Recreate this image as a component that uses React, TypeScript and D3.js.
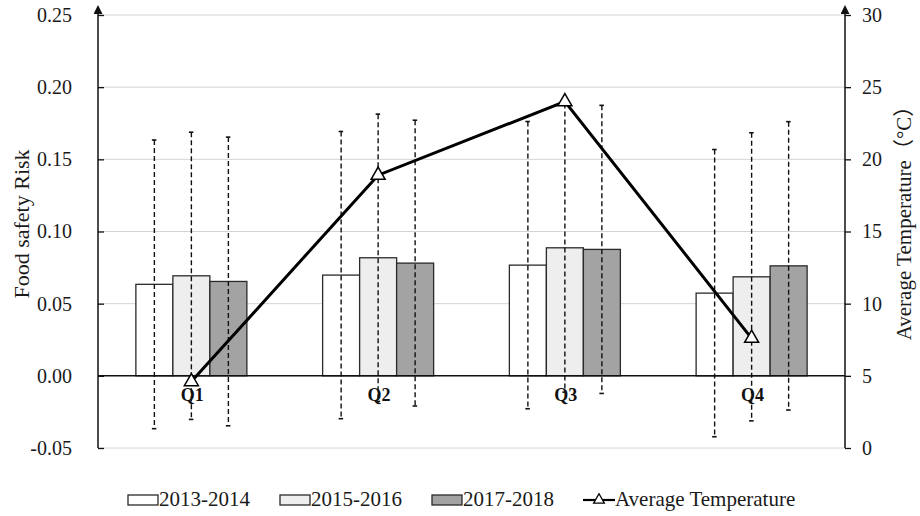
import React, { useEffect, useRef } from "react";
import * as d3 from "d3";

const quarters = ["Q1", "Q2", "Q3", "Q4"];
const seriesNames = ["2013-2014", "2015-2016", "2017-2018"];
const risk2013 = [0.0634, 0.0698, 0.0767, 0.0573];
const risk2015 = [0.0693, 0.0818, 0.0887, 0.0686];
const risk2017 = [0.0654, 0.0781, 0.0876, 0.0762];
const err2013 = [0.1, 0.0995, 0.0995, 0.0995];
const err2015 = [0.0995, 0.0995, 0.1, 0.0998];
const err2017 = [0.1, 0.099, 0.0998, 0.0999];
const avgTemp = [4.6, 18.9, 24.0, 7.6];
const leftTicks = [-0.05, 0, 0.05, 0.1, 0.15, 0.2, 0.25];
const rightTicks = [0, 5, 10, 15, 20, 25, 30];
const seriesFill = ["#ffffff", "#eeeeee", "#a3a3a3"];

const App = () => {
  const svgRef = useRef(null);

  useEffect(() => {
    const width = 920;
    const height = 516;
    const left = 98;
    const right = 845;
    const top = 15;
    const bottom = 448;
    const font = "'Liberation Serif', 'Times New Roman', serif";

    const svg = d3.select(svgRef.current)
      .attr("width", width)
      .attr("height", height)
      .style("background", "#fff");
    svg.selectAll("*").remove();

    const defs = svg.append("defs");
    defs.append("marker")
      .attr("id", "arrow")
      .attr("viewBox", "0 0 10 10")
      .attr("refX", 5)
      .attr("refY", 9)
      .attr("markerWidth", 9)
      .attr("markerHeight", 10)
      .attr("markerUnits", "userSpaceOnUse")
      .attr("orient", "0")
      .append("path")
      .attr("d", "M0,10 L5,0 L10,10 Z")
      .attr("fill", "#111");

    const yL = d3.scaleLinear().domain([-0.05, 0.25]).range([bottom, top]);
    const yR = d3.scaleLinear().domain([0, 30]).range([bottom, top]);
    const x = d3.scaleBand().domain(quarters).range([left, right]);
    const xs = d3.scaleBand().domain(seriesNames).range([-55.5, 55.5]);

    // gridlines
    svg.append("g")
      .selectAll("line")
      .data(leftTicks.filter((d) => d !== 0))
      .join("line")
      .attr("x1", left)
      .attr("x2", right)
      .attr("y1", (d) => yL(d))
      .attr("y2", (d) => yL(d))
      .attr("stroke", "#d4d4d4")
      .attr("stroke-width", 1);

    // bars
    const values = [risk2013, risk2015, risk2017];
    const errs = [err2013, err2015, err2017];
    const rows = [];
    seriesNames.forEach((s, si) => {
      quarters.forEach((q, qi) => {
        rows.push({ s, si, q, v: values[si][qi], e: errs[si][qi] });
      });
    });

    svg.append("g")
      .selectAll("rect")
      .data(rows)
      .join("rect")
      .attr("x", (d) => x(d.q) + x.bandwidth() / 2 + xs(d.s))
      .attr("y", (d) => yL(d.v))
      .attr("width", xs.bandwidth())
      .attr("height", (d) => yL(0) - yL(d.v))
      .attr("fill", (d) => seriesFill[d.si])
      .attr("stroke", "#2a2a2a")
      .attr("stroke-width", 1.3);

    // zero line
    svg.append("line")
      .attr("x1", left)
      .attr("x2", right)
      .attr("y1", yL(0))
      .attr("y2", yL(0))
      .attr("stroke", "#111")
      .attr("stroke-width", 1.5);

    // error bars
    const eg = svg.append("g");
    const cx = (d) => x(d.q) + x.bandwidth() / 2 + xs(d.s) + xs.bandwidth() / 2;
    eg.selectAll("line.err")
      .data(rows)
      .join("line")
      .attr("class", "err")
      .attr("x1", cx)
      .attr("x2", cx)
      .attr("y1", (d) => yL(d.v + d.e))
      .attr("y2", (d) => yL(d.v - d.e))
      .attr("stroke", "#111")
      .attr("stroke-width", 1.4)
      .attr("stroke-dasharray", "5,3");
    eg.selectAll("path.cap")
      .data(rows.flatMap((d) => [{ ...d, y: d.v + d.e }, { ...d, y: d.v - d.e }]))
      .join("path")
      .attr("class", "cap")
      .attr("d", (d) => `M${cx(d) - 2.5},${yL(d.y)} H${cx(d) + 2}`)
      .attr("stroke", "#111")
      .attr("stroke-width", 1.6);

    // quarter labels
    svg.append("g")
      .selectAll("text")
      .data(quarters)
      .join("text")
      .attr("x", (d) => x(d) + x.bandwidth() / 2 + 1)
      .attr("y", yL(0) + 25)
      .attr("text-anchor", "middle")
      .attr("font-family", font)
      .attr("font-weight", "bold")
      .attr("font-size", 18)
      .attr("fill", "#111")
      .text((d) => d);

    // temperature line
    const line = d3.line()
      .x((d, i) => x(quarters[i]) + x.bandwidth() / 2)
      .y((d) => yR(d));
    svg.append("path")
      .datum(avgTemp)
      .attr("d", line)
      .attr("fill", "none")
      .attr("stroke", "#000")
      .attr("stroke-width", 3);
    const tri = d3.symbol().type(d3.symbolTriangle).size(85);
    svg.append("g")
      .selectAll("path")
      .data(avgTemp)
      .join("path")
      .attr("d", tri)
      .attr("transform", (d, i) => `translate(${x(quarters[i]) + x.bandwidth() / 2},${yR(d)})`)
      .attr("fill", "#fff")
      .attr("stroke", "#000")
      .attr("stroke-width", 1.5);

    // axes
    const fmt = d3.format(".2f");
    const axL = svg.append("g")
      .attr("transform", `translate(${left},0)`)
      .call(d3.axisLeft(yL).tickValues(leftTicks).tickFormat((d) => fmt(d).replace("\u2212", "-")).tickSize(-6).tickPadding(26));
    const axR = svg.append("g")
      .attr("transform", `translate(${right},0)`)
      .call(d3.axisRight(yR).tickValues(rightTicks).tickSize(6).tickPadding(11));
    [axL, axR].forEach((ax) => {
      ax.select(".domain").remove();
      ax.selectAll("line").attr("stroke", "#111").attr("stroke-width", 1.3);
      ax.selectAll("text")
        .attr("font-family", font)
        .attr("font-size", 20)
        .attr("fill", "#1a1a1a");
    });
    [left, right].forEach((ax) => {
      svg.append("line")
        .attr("x1", ax)
        .attr("x2", ax)
        .attr("y1", bottom)
        .attr("y2", 13)
        .attr("stroke", "#111")
        .attr("stroke-width", 1.5)
        .attr("marker-end", "url(#arrow)");
    });

    // axis titles
    svg.append("text")
      .attr("transform", "translate(29,224) rotate(-90)")
      .attr("text-anchor", "middle")
      .attr("font-family", font)
      .attr("font-size", 22)
      .attr("fill", "#1a1a1a")
      .text("Food safety Risk");
    svg.append("text")
      .attr("transform", "translate(911,218) rotate(-90)")
      .attr("text-anchor", "middle")
      .attr("font-family", "'Liberation Serif', 'Noto Sans CJK SC', serif")
      .attr("font-size", 21)
      .attr("fill", "#1a1a1a")
      .text("Average Temperature（°C）");

    // legend
    const lg = svg.append("g").attr("font-family", font).attr("font-size", 21).attr("fill", "#1a1a1a");
    const boxX = [128, 280, 432];
    seriesNames.forEach((s, i) => {
      lg.append("rect")
        .attr("x", boxX[i])
        .attr("y", 495)
        .attr("width", 30)
        .attr("height", 10)
        .attr("fill", seriesFill[i])
        .attr("stroke", "#2a2a2a")
        .attr("stroke-width", 1.3);
      lg.append("text").attr("x", boxX[i] + 31).attr("y", 506).text(s);
    });
    lg.append("line")
      .attr("x1", 583)
      .attr("x2", 615)
      .attr("y1", 500)
      .attr("y2", 500)
      .attr("stroke", "#000")
      .attr("stroke-width", 2.2);
    lg.append("path")
      .attr("d", d3.symbol().type(d3.symbolTriangle).size(50)())
      .attr("transform", "translate(599,500)")
      .attr("fill", "#fff")
      .attr("stroke", "#000")
      .attr("stroke-width", 1.3);
    lg.append("text").attr("x", 615).attr("y", 506).text("Average Temperature");
  }, []);

  return (
    <div style={{ position: "absolute", left: 0, top: 0 }}>
      <svg ref={svgRef} style={{ display: "block" }} />
    </div>
  );
};

export default App;
